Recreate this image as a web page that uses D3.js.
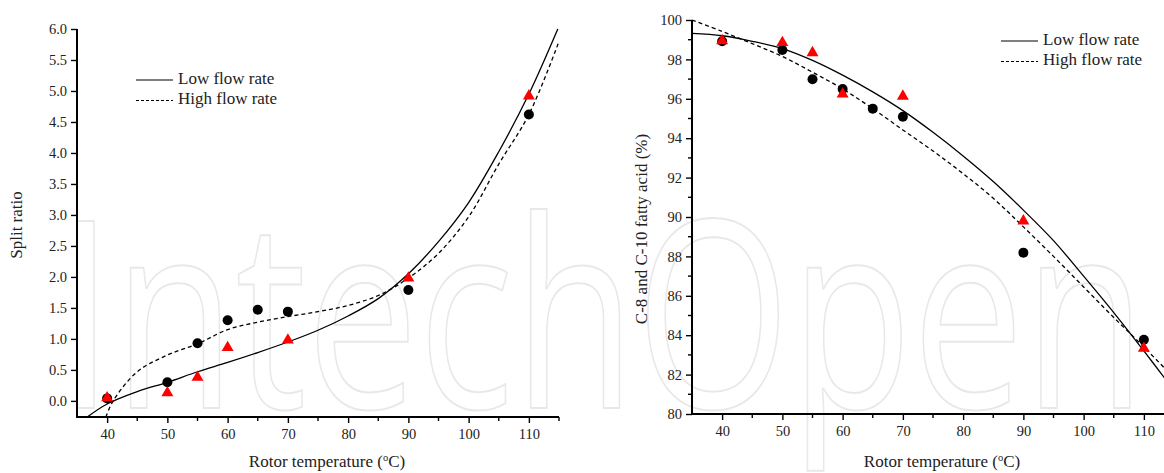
<!DOCTYPE html>
<html>
<head>
<meta charset="utf-8">
<script src="https://cdn.jsdelivr.net/npm/d3@7/dist/d3.min.js"></script>
<style>
  body { margin: 0; background: #fff; }
  svg { display: block; font-family: "Liberation Serif", "DejaVu Serif", serif; }
</style>
</head>
<body>
<svg id="chart" width="1164" height="473"></svg>
<script>
// ---- data ----
// left panel: split ratio
const splitCircleT = [40, 50, 55, 60, 65, 70, 90, 110];
const splitCircleV = [0.04, 0.30, 0.93, 1.30, 1.47, 1.44, 1.79, 4.62];
const splitTriT = [40, 50, 55, 60, 70, 90, 110];
const splitTriV = [0.05, 0.13, 0.38, 0.86, 0.98, 1.98, 4.92];
const splitLowT = [36.7, 40, 45, 50, 55, 60, 65, 70, 75, 80, 85, 90, 95, 100, 105, 110, 114.8];
const splitLowV = [-0.26, -0.05, 0.15, 0.30, 0.47, 0.62, 0.78, 0.95, 1.14, 1.37, 1.65, 2.05, 2.57, 3.2, 4.02, 4.95, 6.0];
const splitHighT = [39.8, 41, 45, 50, 55, 60, 65, 70, 75, 80, 85, 90, 95, 100, 105, 110, 115];
const splitHighV = [-0.26, 0.0, 0.47, 0.74, 0.92, 1.15, 1.27, 1.36, 1.44, 1.54, 1.70, 1.98, 2.38, 2.97, 3.82, 4.62, 5.8];
const splitTicks = [0, 0.5, 1, 1.5, 2, 2.5, 3, 3.5, 4, 4.5, 5, 5.5, 6];

// right panel: C-8 and C-10 fatty acid
const acidCircleT = [40, 50, 55, 60, 65, 70, 90, 110];
const acidCircleV = [98.92, 98.48, 96.99, 96.5, 95.5, 95.09, 88.19, 83.77];
const acidTriT = [40, 50, 55, 60, 70, 90, 110];
const acidTriV = [98.95, 98.85, 98.34, 96.24, 96.13, 89.8, 83.33];
const acidLowT = [35, 40, 45, 50, 55, 60, 65, 70, 75, 80, 85, 90, 95, 100, 105, 110, 114];
const acidLowV = [99.32, 99.2, 98.92, 98.55, 97.95, 97.2, 96.35, 95.4, 94.3, 93.1, 91.8, 90.35, 88.8, 87.0, 85.15, 83.2, 81.6];
const acidHighT = [35, 40, 45, 50, 55, 60, 65, 70, 75, 80, 85, 90, 95, 100, 105, 110, 114];
const acidHighV = [100.0, 99.42, 98.8, 98.15, 97.35, 96.5, 95.5, 94.42, 93.35, 92.2, 90.95, 89.5, 88.0, 86.45, 84.9, 83.4, 82.15];
const acidTicks = [80, 82, 84, 86, 88, 90, 92, 94, 96, 98, 100];

const tempTicks = [40, 50, 60, 70, 80, 90, 100, 110];
const legendLabels = ['Low flow rate', 'High flow rate'];

const svg = d3.select('#chart');
const zip = (a, b) => a.map((v, i) => [v, b[i]]);

// faint publisher watermark behind everything
svg.append('text')
    .attr('x', 58)
    .attr('y', 408)
    .attr('font-family', '"Open Sans", sans-serif')
    .attr('font-weight', 400)
    .attr('font-size', 262)
    .attr('textLength', 1088)
    .attr('lengthAdjust', 'spacingAndGlyphs')
    .attr('fill', 'none')
    .attr('stroke', '#e8e8e8')
    .attr('stroke-width', 2)
    .text('IntechOpen');

function drawPanel(def) {
    const x = d3.scaleLinear().domain([35, 115]).range([def.left, def.left + 482]);
    const y = d3.scaleLinear().domain(def.yDomain).range([def.bottom, def.top]);
    const g = svg.append('g');

    const clipId = `clip-${def.id}`;
    svg.append('clipPath').attr('id', clipId)
        .append('rect')
        .attr('x', def.left).attr('y', def.top - 20)
        .attr('width', 490).attr('height', def.bottom - def.top + 20);

    // x axis: majors + minor ticks
    const xAxis = g.append('g').attr('transform', `translate(0,${def.bottom})`);
    xAxis.call(d3.axisBottom(x).tickValues(tempTicks).tickSize(6).tickSizeOuter(0).tickPadding(6));
    xAxis.append('g').selectAll('line')
        .data(tempTicks.map(t => t + 5))
        .join('line')
        .attr('x1', d => x(d)).attr('x2', d => x(d))
        .attr('y1', 0).attr('y2', 4)
        .attr('stroke', '#000').attr('stroke-width', 1.4);

    const yAxis = g.append('g').attr('transform', `translate(${def.left},0)`);
    yAxis.call(d3.axisLeft(y).tickValues(def.yTicks).tickFormat(def.fmt).tickSize(6).tickSizeOuter(0).tickPadding(4));
    if (def.yMinor) {
        yAxis.append('g').selectAll('line')
            .data(def.yMinor)
            .join('line')
            .attr('x1', -4).attr('x2', 0)
            .attr('y1', d => y(d)).attr('y2', d => y(d))
            .attr('stroke', '#000').attr('stroke-width', 1.4);
    }
    [xAxis, yAxis].forEach(a => {
        a.select('.domain').remove();
        a.selectAll('.tick line').attr('stroke-width', 1.4);
        a.selectAll('.tick text')
            .attr('font-family', '"Liberation Serif", serif')
            .attr('font-size', 14.5)
            .attr('fill', '#222');
    });
    // axis lines as plain strokes
    g.append('line')
        .attr('x1', def.left).attr('x2', def.left)
        .attr('y1', def.top).attr('y2', def.bottom + 1)
        .attr('stroke', '#000').attr('stroke-width', 2);
    g.append('line')
        .attr('x1', def.left - 1).attr('x2', x(115))
        .attr('y1', def.bottom).attr('y2', def.bottom)
        .attr('stroke', '#000').attr('stroke-width', 2);

    // axis titles
    const xt = g.append('text')
        .attr('x', def.left + 250)
        .attr('y', 467)
        .attr('text-anchor', 'middle')
        .attr('font-size', 17)
        .attr('fill', '#222');
    xt.append('tspan').text('Rotor temperature (');
    xt.append('tspan').attr('font-size', 10.5).attr('dy', -6).text('o');
    xt.append('tspan').attr('dy', 6).text('C)');

    g.append('text')
        .attr('transform', `translate(${def.yTitleX},${def.yTitleY}) rotate(-90)`)
        .attr('text-anchor', 'middle')
        .attr('font-size', 17)
        .attr('fill', '#222')
        .text(def.yTitle);

    // fitted curves
    const line = d3.line().x(d => x(d[0])).y(d => y(d[1])).curve(d3.curveCatmullRom.alpha(0.5));
    const curves = g.append('g').attr('clip-path', `url(#${clipId})`);
    curves.append('path')
        .attr('d', line(zip(def.lowT, def.lowV)))
        .attr('fill', 'none').attr('stroke', '#000').attr('stroke-width', 1.3);
    curves.append('path')
        .attr('d', line(zip(def.highT, def.highV)))
        .attr('fill', 'none').attr('stroke', '#000').attr('stroke-width', 1.3)
        .attr('stroke-dasharray', '4,3');

    // measured points
    g.append('g').selectAll('circle')
        .data(zip(def.circT, def.circV))
        .join('circle')
        .attr('cx', d => x(d[0])).attr('cy', d => y(d[1]))
        .attr('r', 5).attr('fill', '#000');
    const tri = d3.symbol().type(d3.symbolTriangle).size(62);
    g.append('g').selectAll('path')
        .data(zip(def.triT, def.triV))
        .join('path')
        .attr('transform', d => `translate(${x(d[0])},${y(d[1])})`)
        .attr('d', tri)
        .attr('fill', '#f00');

    // legend
    const leg = g.append('g').attr('transform', `translate(${def.legX},${def.legY})`);
    const entries = leg.selectAll('g').data(legendLabels).join('g')
        .attr('transform', (d, i) => `translate(0,${i * 20.5})`);
    entries.append('line')
        .attr('x1', 0).attr('x2', 37).attr('y1', 0).attr('y2', 0)
        .attr('stroke', '#000').attr('stroke-width', 1.2)
        .attr('stroke-dasharray', (d, i) => i ? '3,2' : null);
    entries.append('text')
        .attr('x', 42).attr('y', 0)
        .attr('dominant-baseline', 'middle')
        .attr('font-size', 17)
        .attr('fill', '#222')
        .text(d => d);
}

drawPanel({
    id: 'split', left: 77, top: 29, bottom: 417,
    yDomain: [-0.26, 6.0], yTicks: splitTicks, fmt: d3.format('.1f'),
    yTitle: 'Split ratio', yTitleX: 22, yTitleY: 225,
    lowT: splitLowT, lowV: splitLowV, highT: splitHighT, highV: splitHighV,
    circT: splitCircleT, circV: splitCircleV, triT: splitTriT, triV: splitTriV,
    legX: 136, legY: 80
});

drawPanel({
    id: 'acid', left: 692, top: 20, bottom: 414,
    yDomain: [80, 100], yTicks: acidTicks, fmt: d3.format('d'),
    yMinor: d3.range(81, 100, 2),
    yTitle: 'C-8 and C-10 fatty acid (%)', yTitleX: 647, yTitleY: 229,
    lowT: acidLowT, lowV: acidLowV, highT: acidHighT, highV: acidHighV,
    circT: acidCircleT, circV: acidCircleV, triT: acidTriT, triV: acidTriV,
    legX: 1001, legY: 41
});
</script>
</body>
</html>
